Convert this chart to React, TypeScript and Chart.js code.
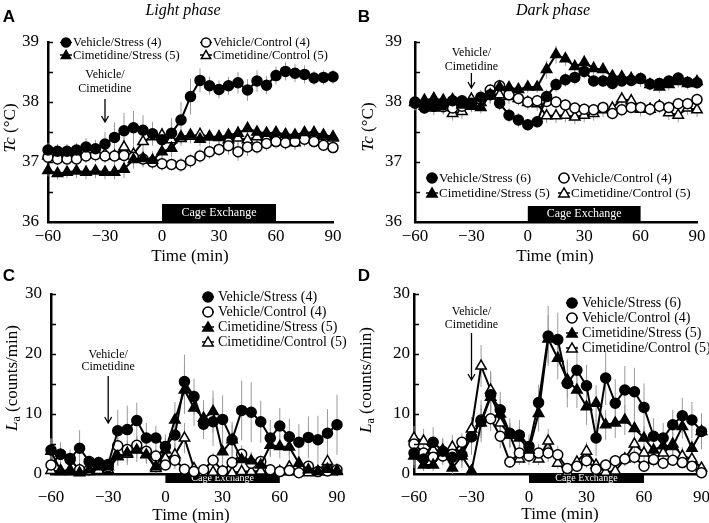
import React, { useEffect, useRef } from 'react';
import { Chart, registerables } from 'chart.js';

Chart.register(...registerables);

const W = 709;
const H = 523;
const SERIF = '"Liberation Serif", "Times New Roman", Times, serif';
const SANS = '"Liberation Sans", Arial, Helvetica, sans-serif';

// ---------- data ----------
const times = [-60, -55, -50, -45, -40, -35, -30, -25, -20, -15, -10, -5, 0, 5, 10, 15, 20, 25, 30, 35, 40, 45, 50, 55, 60, 65, 70, 75, 80, 85, 90];
const xTicks = [-60, -30, 0, 30, 60, 90];

// Panel A – light phase, Tc
const A_vehStress = [37.2, 37.18, 37.18, 37.2, 37.25, 37.22, 37.3, 37.41, 37.52, 37.57, 37.53, 37.47, 37.37, 37.48, 37.7, 38.09, 38.36, 38.27, 38.21, 38.27, 38.32, 38.2, 38.35, 38.28, 38.44, 38.51, 38.48, 38.46, 38.4, 38.41, 38.42];
const A_vehControl = [37.08, 37.05, 37.05, 37.05, 37.1, 37.12, 37.1, 37.1, 37.11, 37.08, 37.05, 37.0, 36.97, 36.96, 36.95, 37.02, 37.1, 37.17, 37.21, 37.27, 37.17, 37.25, 37.25, 37.31, 37.34, 37.32, 37.34, 37.38, 37.34, 37.28, 37.24];
const A_cimStress = [36.86, 36.81, 36.83, 36.85, 36.83, 36.85, 36.83, 36.83, 36.88, 37.04, 37.06, 37.03, 37.17, 37.23, 37.42, 37.45, 37.38, 37.42, 37.41, 37.45, 37.48, 37.56, 37.5, 37.48, 37.49, 37.46, 37.45, 37.49, 37.49, 37.45, 37.42];
const A_cimControl = [37.1, 37.1, 37.13, 37.15, 37.14, 37.13, 37.13, 37.1, 37.25, 37.13, 37.34, 37.42, 37.45, 37.37, 37.39, 37.43, 37.46, 37.42, 37.42, 37.37, 37.4, 37.37, 37.42, 37.41, 37.4, 37.34, 37.32, 37.4, 37.43, 37.43, 37.4];
const A_vehStressErr = [0.12, 0.12, 0.12, 0.12, 0.15, 0.15, 0.2, 0.25, 0.3, 0.28, 0.25, 0.2, 0.2, 0.25, 0.3, 0.3, 0.2, 0.15, 0.15, 0.15, 0.18, 0.18, 0.18, 0.15, 0.15, 0.15, 0.15, 0.15, 0.12, 0.12, 0.12];
const A_vehControlErr = [0.1, 0.1, 0.1, 0.1, 0.12, 0.12, 0.12, 0.15, 0.15, 0.15, 0.12, 0.12, 0.12, 0.1, 0.12, 0.12, 0.12, 0.12, 0.12, 0.15, 0.15, 0.15, 0.12, 0.12, 0.12, 0.12, 0.12, 0.12, 0.1, 0.1, 0.1];
const A_cimStressErr = [0.1, 0.1, 0.1, 0.12, 0.12, 0.12, 0.12, 0.12, 0.15, 0.15, 0.15, 0.15, 0.15, 0.15, 0.12, 0.12, 0.12, 0.1, 0.1, 0.1, 0.12, 0.12, 0.1, 0.1, 0.1, 0.1, 0.1, 0.1, 0.1, 0.1, 0.1];
const A_cimControlErr = [0.12, 0.12, 0.12, 0.12, 0.12, 0.12, 0.12, 0.12, 0.15, 0.15, 0.15, 0.12, 0.12, 0.12, 0.12, 0.12, 0.12, 0.12, 0.12, 0.12, 0.12, 0.12, 0.12, 0.12, 0.12, 0.12, 0.12, 0.12, 0.12, 0.12, 0.12];

// Panel B – dark phase, Tc
const B_vehStress = [37.98, 37.9, 37.93, 37.95, 38.02, 38.02, 37.98, 38.08, 38.12, 37.98, 37.78, 37.7, 37.62, 37.67, 38.09, 38.29, 38.37, 38.41, 38.51, 38.35, 38.35, 38.31, 38.35, 38.36, 38.39, 38.3, 38.31, 38.35, 38.4, 38.33, 38.32];
const B_vehControl = [38.0, 37.93, 37.93, 37.92, 37.9, 37.93, 37.96, 38.04, 38.2, 38.27, 38.12, 38.06, 38.0, 38.02, 38.01, 38.0, 37.95, 37.9, 37.88, 37.87, 37.91, 37.81, 37.87, 37.91, 37.91, 37.88, 37.93, 37.91, 37.97, 37.97, 38.04];
const B_cimStress = [38.0, 38.03, 38.06, 38.03, 38.04, 37.95, 37.93, 37.91, 38.12, 38.25, 38.24, 38.21, 38.25, 38.25, 38.54, 38.79, 38.72, 38.59, 38.66, 38.56, 38.54, 38.43, 38.42, 38.39, 38.37, 38.29, 38.25, 38.29, 38.34, 38.31, 38.34];
const B_cimControl = [37.99, 37.93, 37.9, 37.91, 37.81, 37.84, 38.05, 37.99, 38.1, 38.12, 38.09, 38.06, 37.99, 37.97, 37.77, 37.77, 37.78, 37.75, 37.78, 37.81, 37.87, 37.9, 38.05, 38.02, 37.88, 37.88, 37.93, 37.82, 37.78, 37.9, 37.87];
const B_vehStressErr = [0.12, 0.1, 0.1, 0.1, 0.1, 0.1, 0.12, 0.12, 0.15, 0.12, 0.12, 0.12, 0.1, 0.1, 0.12, 0.12, 0.12, 0.12, 0.12, 0.1, 0.1, 0.1, 0.1, 0.1, 0.1, 0.1, 0.1, 0.1, 0.1, 0.1, 0.1];
const B_vehControlErr = [0.1, 0.1, 0.1, 0.1, 0.1, 0.1, 0.1, 0.1, 0.1, 0.1, 0.1, 0.1, 0.1, 0.1, 0.1, 0.1, 0.1, 0.1, 0.1, 0.1, 0.1, 0.1, 0.1, 0.1, 0.1, 0.1, 0.1, 0.1, 0.1, 0.1, 0.1];
const B_cimStressErr = [0.1, 0.1, 0.1, 0.1, 0.1, 0.1, 0.1, 0.1, 0.1, 0.1, 0.1, 0.1, 0.1, 0.1, 0.15, 0.15, 0.12, 0.12, 0.12, 0.12, 0.12, 0.1, 0.1, 0.12, 0.12, 0.1, 0.1, 0.1, 0.1, 0.1, 0.1];
const B_cimControlErr = [0.12, 0.12, 0.12, 0.12, 0.12, 0.12, 0.12, 0.12, 0.12, 0.12, 0.12, 0.12, 0.12, 0.12, 0.12, 0.12, 0.12, 0.12, 0.12, 0.12, 0.12, 0.12, 0.12, 0.12, 0.12, 0.12, 0.12, 0.12, 0.12, 0.12, 0.12];

// Panel C – light phase, La
const C_vehStress = [4.0, 3.3, 2.6, 4.3, 2.1, 1.8, 1.6, 7.2, 7.4, 8.9, 6.0, 6.0, 4.6, 6.5, 15.4, 12.9, 8.3, 8.7, 9.1, 5.7, 10.6, 10.3, 8.7, 6.0, 8.0, 6.2, 5.3, 6.1, 5.7, 6.8, 8.2];
const C_vehControl = [1.5, 3.3, 2.4, 0.7, 0.7, 1.9, 1.2, 4.7, 4.1, 4.8, 3.8, 3.0, 1.5, 2.3, 0.8, 0.4, 0.7, 2.3, 0.5, 1.9, 3.3, 1.8, 2.1, 0.7, 0.4, 0.6, 0.2, 1.3, 0.4, 0.5, 0.7];
const C_cimStress = [3.8, 0.6, 0.4, 0.2, 0.7, 1.2, 1.2, 2.9, 3.5, 4.0, 3.2, 1.2, 4.0, 9.0, 14.0, 11.0, 9.3, 10.4, 3.7, 5.7, 2.4, 2.2, 1.5, 4.8, 4.6, 4.5, 1.8, 0.7, 0.4, 0.8, 0.6];
const C_cimControl = [0.6, 0.4, 0.7, 0.6, 0.4, 0.6, 0.7, 2.9, 3.3, 4.1, 3.3, 0.9, 2.6, 3.2, 6.0, 0.9, 0.2, 0.3, 0.4, 0.2, 0.4, 0.4, 0.5, 0.4, 0.4, 1.2, 0.4, 0.2, 0.4, 2.1, 0.4];
const C_vehStressErr = [2.0, 2.0, 1.5, 3.0, 1.0, 1.0, 1.0, 3.5, 4.0, 3.0, 2.5, 2.0, 2.0, 3.0, 4.5, 3.0, 2.5, 4.0, 4.0, 3.0, 5.0, 5.0, 3.5, 3.0, 3.0, 3.0, 3.0, 3.5, 4.0, 4.0, 5.0];
const C_vehControlErr = [1.0, 1.5, 1.0, 0.8, 0.5, 1.0, 0.8, 2.0, 1.5, 1.5, 1.5, 1.2, 1.0, 1.5, 0.8, 0.5, 0.5, 1.2, 0.5, 1.2, 1.5, 1.0, 1.0, 0.5, 0.5, 0.5, 0.3, 1.0, 0.5, 0.5, 0.5];
const C_cimStressErr = [2.0, 0.5, 0.5, 0.3, 0.5, 0.8, 0.8, 1.5, 2.0, 2.0, 1.5, 1.0, 2.0, 3.0, 4.0, 3.0, 3.0, 3.5, 2.0, 2.5, 1.5, 1.5, 1.0, 2.0, 2.0, 2.0, 1.0, 0.5, 0.5, 0.5, 0.5];
const C_cimControlErr = [0.5, 0.3, 0.5, 0.5, 0.3, 0.5, 0.5, 1.5, 1.5, 1.5, 1.5, 0.8, 1.5, 2.0, 2.5, 0.8, 0.2, 0.3, 0.3, 0.2, 0.3, 0.3, 0.4, 0.3, 0.3, 1.0, 0.3, 0.2, 0.3, 1.5, 0.3];

// Panel D – dark phase, La
const D_vehStress = [3.5, 2.5, 5.3, 3.8, 2.8, 3.2, 6.2, 8.8, 13.2, 10.7, 6.8, 6.5, 4.6, 11.9, 23.0, 22.4, 15.1, 17.3, 14.7, 6.0, 16.0, 11.8, 14.0, 13.7, 11.1, 6.3, 6.0, 8.2, 9.7, 9.0, 7.1];
const D_vehControl = [5.0, 3.5, 2.8, 3.0, 3.3, 5.3, 6.2, 9.0, 9.2, 6.3, 2.0, 3.5, 3.0, 3.5, 3.5, 3.2, 0.9, 1.3, 2.2, 0.8, 1.5, 2.2, 2.5, 2.8, 1.3, 2.4, 1.8, 2.3, 1.9, 1.3, 0.2];
const D_cimStress = [3.0, 1.5, 1.5, 4.0, 1.0, 3.0, 0.5, 8.5, 12.8, 10.0, 6.5, 6.0, 4.0, 10.1, 22.5, 19.3, 15.7, 14.0, 11.2, 11.8, 8.2, 8.5, 9.0, 7.6, 6.0, 4.0, 4.7, 4.6, 7.9, 4.3, 7.1];
const D_cimControl = [6.0, 5.5, 4.0, 3.5, 4.5, 3.5, 7.5, 18.0, 14.0, 8.5, 6.5, 2.5, 3.5, 2.5, 5.5, 1.8, 0.3, 2.0, 3.8, 1.5, 0.3, 0.5, 2.5, 5.0, 3.5, 2.5, 3.5, 5.0, 3.0, 2.5, 1.0];
const D_vehStressErr = [2, 2, 2.5, 2, 2, 2, 3, 3.5, 4, 3, 2.5, 2.5, 2, 3, 5, 4.5, 4, 4, 3.5, 3, 4.5, 4, 4, 4, 4, 3, 2.5, 2.5, 3, 3, 3];
const D_vehControlErr = [1.5, 1.5, 1, 1.5, 1.5, 1.5, 2, 2.5, 2, 2, 1, 1.5, 1.5, 1.5, 1.5, 1.5, 0.5, 0.8, 1.2, 0.8, 1, 1, 1.2, 1.2, 1, 1.2, 1, 1, 1, 0.8, 0.3];
const D_cimStressErr = [2, 1, 1, 2, 1, 2, 0.5, 2.5, 3, 2.5, 2, 2, 2, 3, 4, 3.5, 3, 3, 3, 3, 2.5, 2.5, 2.5, 2.5, 2, 1.5, 1.5, 1.5, 2, 1.5, 2];
const D_cimControlErr = [2, 2, 1.5, 1.5, 2, 1.5, 2, 3.5, 3, 2.5, 2, 1, 1.5, 1, 2, 1, 0.3, 1, 1.5, 0.8, 0.3, 0.4, 1.2, 2, 1.5, 1.2, 1.5, 2, 1.5, 1.2, 0.5];

const labelsLight = ['Vehicle/Stress (4)', 'Vehicle/Control (4)', 'Cimetidine/Stress (5)', 'Cimetidine/Control (5)'];
const labelsDark = ['Vehicle/Stress (6)', 'Vehicle/Control (4)', 'Cimetidine/Stress (5)', 'Cimetidine/Control (5)'];

// ---------- types ----------
type Marker = 'fc' | 'oc' | 'ft' | 'ot';
interface Series { label: string; values: number[]; errors: number[]; marker: Marker }
interface TitlePart { t: string; italic?: boolean; sub?: boolean }
interface PanelCfg {
  letter: string; letterPos: [number, number];
  phase?: string; phasePos?: [number, number];
  area: { left: number; right: number; top: number; bottom: number };
  yMin: number; yMax: number; yMajor: number; yMinor: number;
  yPad: number; xPad: number;
  yTitle: TitlePart[]; yTitlePos: [number, number];
  xTitlePos: [number, number];
  series: Series[];
  legend: { x: number; y: number; cols: number; colW: number; rowH: number; font: number; textOff: number; r: number };
  annot: { y1: number; y2: number; arrowTop: number; arrowBottom: number };
  cage: { top: number; bottom: number; font: number };
}

const mk = (labels: string[], v: number[][], e: number[][]): Series[] => [
  { label: labels[0], values: v[0], errors: e[0], marker: 'fc' },
  { label: labels[1], values: v[1], errors: e[1], marker: 'oc' },
  { label: labels[2], values: v[2], errors: e[2], marker: 'ft' },
  { label: labels[3], values: v[3], errors: e[3], marker: 'ot' },
];

const tcTitle: TitlePart[] = [{ t: 'Tc', italic: true }, { t: ' (°C)' }];
const laTitle: TitlePart[] = [{ t: 'L', italic: true }, { t: 'a', sub: true }, { t: ' (counts/min)' }];

const panels: PanelCfg[] = [
  {
    letter: 'A', letterPos: [9, 17], phase: 'Light phase', phasePos: [183, 11],
    area: { left: 48, right: 333, top: 42, bottom: 222 },
    yMin: 36, yMax: 39, yMajor: 1, yMinor: 0.5, yPad: 9, xPad: 4,
    yTitle: tcTitle, yTitlePos: [11, 128], xTitlePos: [190, 257],
    series: mk(labelsLight, [A_vehStress, A_vehControl, A_cimStress, A_cimControl], [A_vehStressErr, A_vehControlErr, A_cimStressErr, A_cimControlErr]),
    legend: { x: 66, y: 42.5, cols: 2, colW: 140, rowH: 12.5, font: 12.5, textOff: 7, r: 4.5 },
    annot: { y1: 75, y2: 89, arrowTop: 99, arrowBottom: 122 },
    cage: { top: 204, bottom: 221, font: 12 },
  },
  {
    letter: 'B', letterPos: [364, 17], phase: 'Dark phase', phasePos: [553, 11],
    area: { left: 415, right: 697, top: 42, bottom: 222 },
    yMin: 36, yMax: 39, yMajor: 1, yMinor: 0.5, yPad: 13, xPad: 4,
    yTitle: tcTitle, yTitlePos: [369, 127], xTitlePos: [555, 257],
    series: mk(labelsDark, [B_vehStress, B_vehControl, B_cimStress, B_cimControl], [B_vehStressErr, B_vehControlErr, B_cimStressErr, B_cimControlErr]),
    legend: { x: 432, y: 178, cols: 2, colW: 132, rowH: 15, font: 13, textOff: 7, r: 5 },
    annot: { y1: 53, y2: 67, arrowTop: 73, arrowBottom: 88 },
    cage: { top: 206, bottom: 221, font: 12 },
  },
  {
    letter: 'C', letterPos: [9, 276],
    area: { left: 51, right: 337, top: 294, bottom: 474 },
    yMin: 0, yMax: 30, yMajor: 10, yMinor: 5, yPad: 9, xPad: 13,
    yTitle: laTitle, yTitlePos: [13, 378], xTitlePos: [191, 516],
    series: mk(labelsLight, [C_vehStress, C_vehControl, C_cimStress, C_cimControl], [C_vehStressErr, C_vehControlErr, C_cimStressErr, C_cimControlErr]),
    legend: { x: 208, y: 297, cols: 1, colW: 0, rowH: 15, font: 14, textOff: 10, r: 5 },
    annot: { y1: 355, y2: 367, arrowTop: 376, arrowBottom: 423 },
    cage: { top: 473, bottom: 483, font: 10 },
  },
  {
    letter: 'D', letterPos: [364, 276],
    area: { left: 414, right: 702, top: 294, bottom: 474 },
    yMin: 0, yMax: 30, yMajor: 10, yMinor: 5, yPad: 4, xPad: 13,
    yTitle: laTitle, yTitlePos: [367, 380], xTitlePos: [560, 515],
    series: mk(labelsDark, [D_vehStress, D_vehControl, D_cimStress, D_cimControl], [D_vehStressErr, D_vehControlErr, D_cimStressErr, D_cimControlErr]),
    legend: { x: 572, y: 303, cols: 1, colW: 0, rowH: 15, font: 14, textOff: 10, r: 5 },
    annot: { y1: 312, y2: 325, arrowTop: 333, arrowBottom: 380 },
    cage: { top: 473, bottom: 483, font: 10 },
  },
];

// ---------- drawing helpers ----------
function drawMarker(ctx: CanvasRenderingContext2D, m: Marker, x: number, y: number, r: number) {
  ctx.save();
  ctx.lineWidth = 1.5;
  ctx.strokeStyle = '#000';
  ctx.fillStyle = m[0] === 'f' ? '#000' : '#fff';
  ctx.beginPath();
  if (m[1] === 'c') {
    ctx.arc(x, y, r, 0, Math.PI * 2);
  } else {
    const rr = r * 1.2;
    for (let k = 0; k < 3; k++) {
      const a = -Math.PI / 2 + (k * 2 * Math.PI) / 3;
      const px = x + Math.cos(a) * rr;
      const py = y + Math.sin(a) * rr + rr * 0.15;
      if (k === 0) ctx.moveTo(px, py); else ctx.lineTo(px, py);
    }
    ctx.closePath();
  }
  ctx.fill();
  ctx.stroke();
  ctx.restore();
}

const YW = 40;
const XH = 30;

function makePlugin(cfg: PanelCfg) {
  return {
    id: 'panel' + cfg.letter,
    beforeDatasetsDraw(chart: any) {
      const ctx: CanvasRenderingContext2D = chart.ctx;
      const xs = chart.scales.x;
      const ys = chart.scales.y;
      // cage exchange bar
      const x0 = xs.getPixelForValue(0);
      const x60 = xs.getPixelForValue(60);
      ctx.save();
      ctx.fillStyle = '#000';
      ctx.fillRect(x0, cfg.cage.top, x60 - x0, cfg.cage.bottom - cfg.cage.top);
      ctx.fillStyle = '#fff';
      ctx.font = `${cfg.cage.font}px ${SERIF}`;
      ctx.textAlign = 'center';
      ctx.textBaseline = 'middle';
      ctx.fillText('Cage Exchange', (x0 + x60) / 2, (cfg.cage.top + cfg.cage.bottom) / 2 + 0.5);
      ctx.restore();
      // error bars
      ctx.save();
      ctx.strokeStyle = '#9a9a9a';
      ctx.lineWidth = 1;
      cfg.series.forEach((s) => {
        s.values.forEach((v, i) => {
          const x = xs.getPixelForValue(times[i]);
          const lo = Math.max(cfg.yMin, v - s.errors[i]);
          const hi = Math.min(cfg.yMax, v + s.errors[i]);
          ctx.beginPath();
          ctx.moveTo(x, ys.getPixelForValue(lo));
          ctx.lineTo(x, ys.getPixelForValue(hi));
          ctx.stroke();
        });
      });
      ctx.restore();
    },
    afterDraw(chart: any) {
      const ctx: CanvasRenderingContext2D = chart.ctx;
      const xs = chart.scales.x;
      const ys = chart.scales.y;
      const area = chart.chartArea;
      ctx.save();
      // inner y tick marks
      ctx.strokeStyle = '#000';
      ctx.lineWidth = 1.5;
      for (let v = cfg.yMin + cfg.yMinor; v <= cfg.yMax + 1e-9; v += cfg.yMinor) {
        const y = Math.round(ys.getPixelForValue(v)) + 0.5;
        ctx.beginPath();
        ctx.moveTo(area.left, y);
        ctx.lineTo(area.left + 5, y);
        ctx.stroke();
      }
      // panel letter
      ctx.fillStyle = '#000';
      ctx.font = `bold 17px ${SANS}`;
      ctx.textAlign = 'center';
      ctx.textBaseline = 'middle';
      ctx.fillText(cfg.letter, cfg.letterPos[0], cfg.letterPos[1]);
      // phase title
      if (cfg.phase && cfg.phasePos) {
        ctx.font = `italic 16px ${SERIF}`;
        ctx.fillText(cfg.phase, cfg.phasePos[0], cfg.phasePos[1]);
      }
      // x title
      ctx.font = `17px ${SERIF}`;
      ctx.fillText('Time (min)', cfg.xTitlePos[0], cfg.xTitlePos[1]);
      // y title (rotated, mixed styles)
      ctx.save();
      ctx.translate(cfg.yTitlePos[0], cfg.yTitlePos[1]);
      ctx.rotate(-Math.PI / 2);
      ctx.textAlign = 'left';
      const fontOf = (p: TitlePart) => (p.sub ? `12px ${SERIF}` : `${p.italic ? 'italic ' : ''}17px ${SERIF}`);
      let total = 0;
      cfg.yTitle.forEach((p) => { ctx.font = fontOf(p); total += ctx.measureText(p.t).width; });
      let cx = -total / 2;
      cfg.yTitle.forEach((p) => {
        ctx.font = fontOf(p);
        ctx.fillText(p.t, cx, p.sub ? 4 : 0);
        cx += ctx.measureText(p.t).width;
      });
      ctx.restore();
      // annotation
      const ax = xs.getPixelForValue(-30);
      ctx.font = `12px ${SERIF}`;
      ctx.textAlign = 'center';
      ctx.fillText('Vehicle/', ax, cfg.annot.y1);
      ctx.fillText('Cimetidine', ax, cfg.annot.y2);
      ctx.strokeStyle = '#000';
      ctx.lineWidth = 1.3;
      ctx.beginPath();
      ctx.moveTo(ax, cfg.annot.arrowTop);
      ctx.lineTo(ax, cfg.annot.arrowBottom);
      ctx.moveTo(ax - 3.5, cfg.annot.arrowBottom - 6);
      ctx.lineTo(ax, cfg.annot.arrowBottom);
      ctx.lineTo(ax + 3.5, cfg.annot.arrowBottom - 6);
      ctx.stroke();
      // legend
      const L = cfg.legend;
      cfg.series.forEach((s, k) => {
        const col = k % L.cols;
        const row = Math.floor(k / L.cols);
        const mx = L.x + col * L.colW;
        const my = L.y + row * L.rowH;
        ctx.strokeStyle = '#000';
        ctx.lineWidth = 1.5;
        ctx.beginPath();
        ctx.moveTo(mx - 6, my);
        ctx.lineTo(mx + 6, my);
        ctx.stroke();
        drawMarker(ctx, s.marker, mx, my, L.r);
        ctx.fillStyle = '#000';
        ctx.font = `${L.font}px ${SERIF}`;
        ctx.textAlign = 'left';
        ctx.textBaseline = 'middle';
        ctx.fillText(s.label, mx + L.textOff, my + 0.5);
      });
      ctx.restore();
    },
  };
}

function Panel({ cfg }: { cfg: PanelCfg }) {
  const ref = useRef<HTMLCanvasElement>(null);
  useEffect(() => {
    if (!ref.current) return;
    const chart = new Chart(ref.current, {
      type: 'line',
      data: {
        datasets: cfg.series.map((s) => ({
          label: s.label,
          data: times.map((t, i) => ({ x: t, y: s.values[i] })),
          borderColor: '#000',
          borderWidth: 2,
          pointStyle: s.marker[1] === 'c' ? 'circle' : 'triangle',
          pointRadius: s.marker[1] === 'c' ? 5 : 6,
          pointBackgroundColor: s.marker[0] === 'f' ? '#000' : '#fff',
          pointBorderColor: '#000',
          pointBorderWidth: 1.5,
          fill: false,
          tension: 0,
          clip: false as any,
          order: s.marker[0] === 'f' ? 0 : 1,
        })),
      },
      options: {
        responsive: false,
        animation: false,
        events: [],
        layout: {
          padding: {
            left: cfg.area.left - YW,
            right: W - cfg.area.right,
            top: cfg.area.top,
            bottom: H - cfg.area.bottom - XH,
          },
        },
        plugins: { legend: { display: false }, tooltip: { enabled: false }, title: { display: false } },
        scales: {
          x: {
            type: 'linear',
            min: -60,
            max: 90,
            afterBuildTicks: (s: any) => { s.ticks = xTicks.map((v) => ({ value: v })); },
            ticks: {
              padding: cfg.xPad,
              color: '#000',
              font: { family: SERIF, size: 17 },
              maxRotation: 0,
              autoSkip: false,
              callback: (v: any) => String(v).replace('-', '\u2212'),
            },
            grid: { display: false, drawTicks: false },
            border: { display: true, color: '#000', width: 2.5 },
            afterFit: (s: any) => { s.height = XH; s.paddingLeft = 0; s.paddingRight = 0; },
          },
          y: {
            type: 'linear',
            min: cfg.yMin,
            max: cfg.yMax,
            ticks: {
              stepSize: cfg.yMajor,
              padding: cfg.yPad,
              color: '#000',
              font: { family: SERIF, size: 17 },
            },
            grid: { display: false, drawTicks: false },
            border: { display: true, color: '#000', width: 2.5 },
            afterFit: (s: any) => { s.width = YW; s.paddingTop = 0; s.paddingBottom = 0; },
          },
        },
      } as any,
      plugins: [makePlugin(cfg)],
    });
    return () => chart.destroy();
  }, [cfg]);
  return (
    <canvas
      ref={ref}
      width={W}
      height={H}
      style={{ position: 'absolute', left: 0, top: 0, width: W, height: H }}
    />
  );
}

export default function App() {
  return (
    <div style={{ position: 'fixed', left: 0, top: 0, width: W, height: H, background: '#fff', overflow: 'hidden' }}>
      {panels.map((p) => (
        <Panel key={p.letter} cfg={p} />
      ))}
    </div>
  );
}
